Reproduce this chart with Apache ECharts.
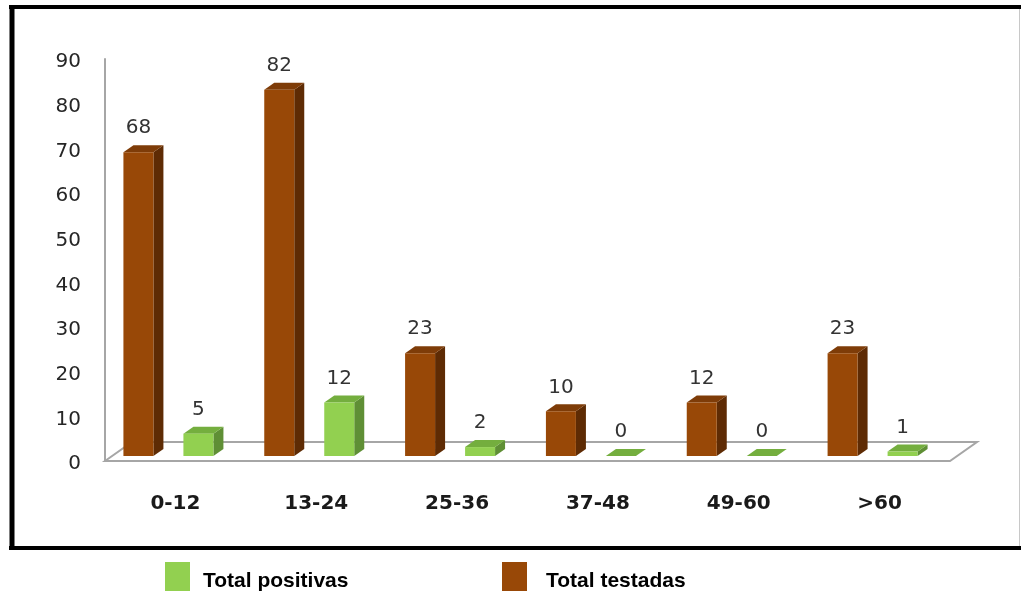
<!DOCTYPE html>
<html>
<head>
<meta charset="utf-8">
<script src="https://cdn.jsdelivr.net/npm/echarts@6/dist/echarts.min.js"></script>
<style>
html,body{margin:0;padding:0;background:#fff;}
#chart{width:1021px;height:595px;}
</style>
</head>
<body>
<div id="chart"></div>
<script>
var categories = ['0-12', '13-24', '25-36', '37-48', '49-60', '>60'];
var totalTestadas = [68, 82, 23, 10, 12, 23];
var totalPositivas = [5, 12, 2, 0, 0, 1];
var yTicks = {min: 0, max: 90, interval: 10};

var chart = echarts.init(document.getElementById('chart'));

var DEPTH_X = 10, DEPTH_Y = -7;
var SHIFT_X = -7, SHIFT_Y = -5;

function barRenderer(side, colors) {
  return function (params, api) {
    var cat = api.value(0), v = api.value(1);
    var base = api.coord([cat, 0]);
    var top = api.coord([cat, v]);
    var band = api.size([1, 0])[0];
    var w = band * 0.213;
    var cx = base[0] + side * w + SHIFT_X;
    var x0 = cx - w / 2, x1 = cx + w / 2;
    var yb = base[1] + SHIFT_Y, yt = top[1] + SHIFT_Y;
    var children = [];
    children.push({
      type: 'polygon',
      shape: {points: [[x1, yt], [x1 + DEPTH_X, yt + DEPTH_Y], [x1 + DEPTH_X, yb + DEPTH_Y], [x1, yb]]},
      style: {fill: colors.side}
    });
    children.push({
      type: 'polygon',
      shape: {points: [[x0, yt], [x0 + DEPTH_X, yt + DEPTH_Y], [x1 + DEPTH_X, yt + DEPTH_Y], [x1, yt]]},
      style: {fill: colors.top}
    });
    if (yb - yt > 0.5) {
      children.push({
        type: 'rect',
        shape: {x: x0, y: yt, width: w, height: yb - yt},
        style: {fill: colors.front}
      });
    }
    children.push({
      type: 'text',
      style: {
        text: String(v), x: cx, y: yt - 24,
        align: 'center', verticalAlign: 'middle',
        fill: '#333333', fontSize: 20, fontFamily: 'DejaVu Sans'
      }
    });
    return {type: 'group', children: children};
  };
}

function floorRenderer(params, api) {
  var cs = params.coordSys;
  var x = cs.x, yB = cs.y + cs.height, w = cs.width;
  var dx = 27, dy = -19;
  return {
    type: 'group',
    children: [{
      type: 'polygon',
      shape: {points: [[x, yB], [x + dx, yB + dy], [x + w + dx, yB + dy], [x + w, yB]]},
      style: {fill: '#ffffff', stroke: '#A6A6A6', lineWidth: 2}
    }]
  };
}

var legendText = {
  fontFamily: 'Liberation Sans', fontWeight: 'bold', fontSize: 21, color: '#000',
  rich: {
    a: {fontFamily: 'Liberation Sans', fontWeight: 'bold', fontSize: 21, color: '#000', padding: [10, 0, 0, 8]},
    b: {fontFamily: 'Liberation Sans', fontWeight: 'bold', fontSize: 21, color: '#000', padding: [10, 0, 0, 14]}
  }
};

var option = {
  backgroundColor: '#ffffff',
  animation: false,
  grid: {left: 105, right: 71, top: 59, bottom: 134},
  legend: [{
    data: ['Total positivas'],
    left: 160, top: 557,
    icon: 'rect', itemWidth: 25, itemHeight: 29,
    formatter: '{a|{name}}',
    textStyle: legendText
  }, {
    data: ['Total testadas'],
    left: 497, top: 557,
    icon: 'rect', itemWidth: 25, itemHeight: 29,
    formatter: '{b|{name}}',
    textStyle: legendText
  }],
  xAxis: {
    type: 'category',
    data: categories,
    axisLine: {show: false},
    axisTick: {show: false},
    axisLabel: {margin: 33, fontFamily: 'DejaVu Sans', fontWeight: 'bold', fontSize: 20, color: '#1a1a1a'}
  },
  yAxis: {
    type: 'value',
    min: yTicks.min, max: yTicks.max, interval: yTicks.interval,
    axisLine: {show: true, lineStyle: {color: '#A6A6A6', width: 2}},
    axisTick: {show: false},
    splitLine: {show: false},
    axisLabel: {
      margin: 24, formatter: '{t|{value}}',
      rich: {t: {fontFamily: 'DejaVu Sans', fontSize: 20, color: '#262626', padding: [6, 0, 0, 0]}}
    }
  },
  graphic: [
    {type: 'line', shape: {x1: 9, y1: 7, x2: 1021, y2: 7}, style: {stroke: '#000', lineWidth: 4}},
    {type: 'line', shape: {x1: 12, y1: 5, x2: 12, y2: 550}, style: {stroke: '#000', lineWidth: 5}},
    {type: 'line', shape: {x1: 9, y1: 548, x2: 1021, y2: 548}, style: {stroke: '#000', lineWidth: 4}},
    {type: 'line', shape: {x1: 1019.5, y1: 9, x2: 1019.5, y2: 546}, style: {stroke: '#C8C8C8', lineWidth: 1}}
  ],
  series: [{
    type: 'custom',
    name: 'floor',
    silent: true,
    z: 1,
    renderItem: floorRenderer,
    data: [[0, 0]]
  }, {
    type: 'custom',
    name: 'Total testadas',
    z: 2,
    itemStyle: {color: '#984807'},
    renderItem: barRenderer(-1, {front: '#984807', side: '#5E2B04', top: '#7E3C08'}),
    data: totalTestadas.map(function (v, i) { return [i, v]; })
  }, {
    type: 'custom',
    name: 'Total positivas',
    z: 2,
    itemStyle: {color: '#92D050'},
    renderItem: barRenderer(1, {front: '#92D050', side: '#5F8F35', top: '#74AE3E'}),
    data: totalPositivas.map(function (v, i) { return [i, v]; })
  }]
};
chart.setOption(option);
</script>
</body>
</html>
